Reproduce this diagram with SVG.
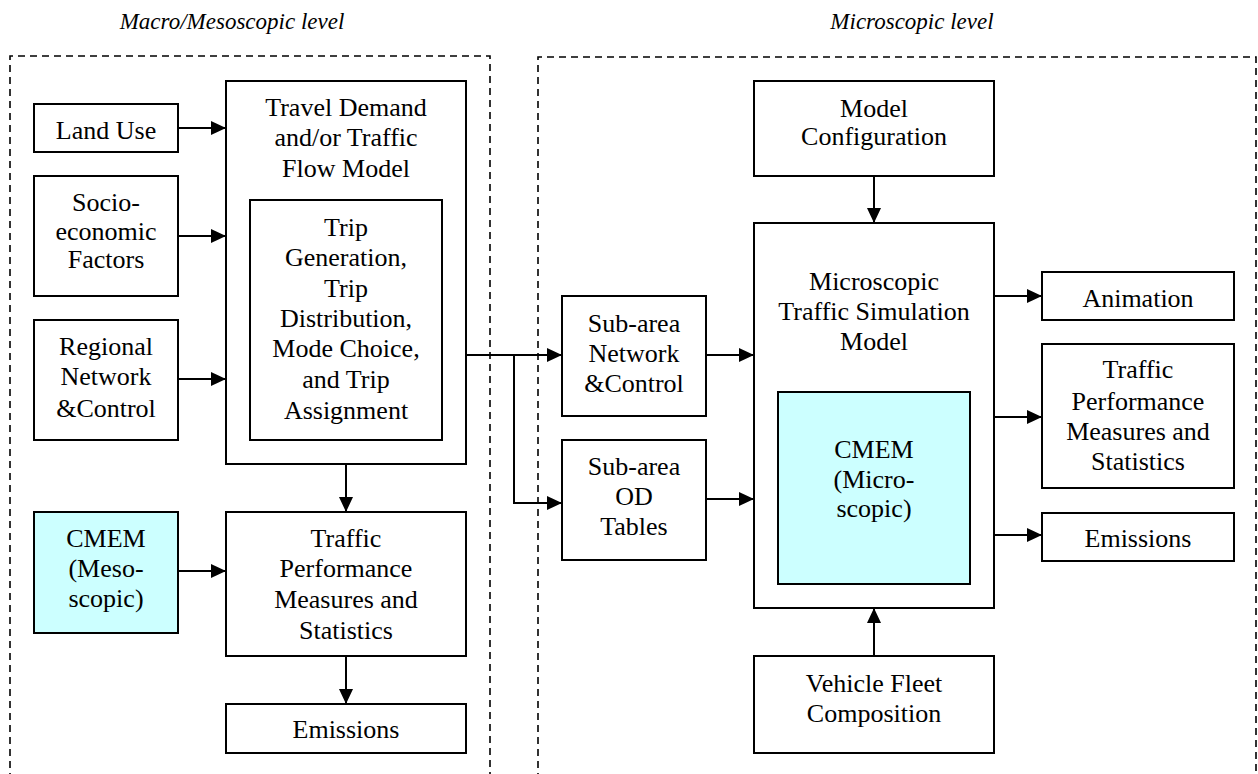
<svg xmlns="http://www.w3.org/2000/svg" width="1258" height="774" viewBox="0 0 1258 774">
<defs>
<marker id="ah" markerWidth="15" markerHeight="14" refX="15" refY="7" orient="auto" markerUnits="userSpaceOnUse">
<path d="M0,0 L15,7 L0,14 Z" fill="#000"/>
</marker>
<style>
.box{fill:#fff;stroke:#000;stroke-width:2}
.cyan{fill:#ccffff;stroke:#000;stroke-width:2}
.dash{fill:none;stroke:#000;stroke-width:1.6;stroke-dasharray:7,5}
.t{font-family:"Liberation Serif","Times New Roman",serif;font-size:26px;fill:#000;text-anchor:middle}
.title{font-family:"Liberation Serif","Times New Roman",serif;font-size:23px;font-style:italic;fill:#000;text-anchor:middle}
.c{fill:none;stroke:#000;stroke-width:2}
</style>
</defs>
<rect width="1258" height="774" fill="#fff"/>
<g id="regions">
<path class="dash" d="M10,780 L10,56 L490,56 L490,780"/>
<path class="dash" d="M538,780 L538,57 L1256,57 L1256,780"/>
<text class="title" x="232" y="29">Macro/Mesoscopic level</text>
<text class="title" x="912" y="29">Microscopic level</text>
</g>
<g id="landuse"><rect class="box" x="34" y="104" width="144" height="48"/><text class="t" x="106" y="139">Land Use</text></g>
<g id="socio"><rect class="box" x="34" y="176" width="144" height="120"/><text class="t" x="106" y="211">Socio-</text><text class="t" x="106" y="240">economic</text><text class="t" x="106" y="268">Factors</text></g>
<g id="regional"><rect class="box" x="34" y="320" width="144" height="120"/><text class="t" x="106" y="355">Regional</text><text class="t" x="106" y="385">Network</text><text class="t" x="106" y="417">&amp;Control</text></g>
<g id="travel"><rect class="box" x="226" y="81" width="240" height="383"/><text class="t" x="346" y="116">Travel Demand</text><text class="t" x="346" y="146">and/or Traffic</text><text class="t" x="346" y="177">Flow Model</text></g>
<g id="trip"><rect class="box" x="250" y="200" width="192" height="240"/><text class="t" x="346" y="236">Trip</text><text class="t" x="346" y="266">Generation,</text><text class="t" x="346" y="297">Trip</text><text class="t" x="346" y="327">Distribution,</text><text class="t" x="346" y="357">Mode Choice,</text><text class="t" x="346" y="388">and Trip</text><text class="t" x="346" y="419">Assignment</text></g>
<g id="cmemmeso"><rect class="cyan" x="34" y="512" width="144" height="121"/><text class="t" x="106" y="547">CMEM</text><text class="t" x="106" y="577">(Meso-</text><text class="t" x="106" y="607">scopic)</text></g>
<g id="tpmleft"><rect class="box" x="226" y="512" width="240" height="144"/><text class="t" x="346" y="547">Traffic</text><text class="t" x="346" y="577">Performance</text><text class="t" x="346" y="608">Measures and</text><text class="t" x="346" y="639">Statistics</text></g>
<g id="emisleft"><rect class="box" x="226" y="704" width="240" height="49"/><text class="t" x="346" y="738">Emissions</text></g>
<g id="subnet"><rect class="box" x="562" y="296" width="144" height="120"/><text class="t" x="634" y="332">Sub-area</text><text class="t" x="634" y="362">Network</text><text class="t" x="634" y="392">&amp;Control</text></g>
<g id="subod"><rect class="box" x="562" y="440" width="144" height="120"/><text class="t" x="634" y="475">Sub-area</text><text class="t" x="634" y="505">OD</text><text class="t" x="634" y="535">Tables</text></g>
<g id="modelconfig"><rect class="box" x="754" y="81" width="240" height="95"/><text class="t" x="874" y="117">Model</text><text class="t" x="874" y="145">Configuration</text></g>
<g id="micro"><rect class="box" x="754" y="223" width="240" height="385"/><text class="t" x="874" y="290">Microscopic</text><text class="t" x="874" y="320">Traffic Simulation</text><text class="t" x="874" y="350">Model</text></g>
<g id="cmemmicro"><rect class="cyan" x="778" y="392" width="192" height="192"/><text class="t" x="874" y="458">CMEM</text><text class="t" x="874" y="488">(Micro-</text><text class="t" x="874" y="517">scopic)</text></g>
<g id="fleet"><rect class="box" x="754" y="656" width="240" height="97"/><text class="t" x="874" y="692">Vehicle Fleet</text><text class="t" x="874" y="722">Composition</text></g>
<g id="animation"><rect class="box" x="1042" y="272" width="192" height="48"/><text class="t" x="1138" y="307">Animation</text></g>
<g id="tpmright"><rect class="box" x="1042" y="344" width="192" height="144"/><text class="t" x="1138" y="378">Traffic</text><text class="t" x="1138" y="410">Performance</text><text class="t" x="1138" y="440">Measures and</text><text class="t" x="1138" y="470">Statistics</text></g>
<g id="emisright"><rect class="box" x="1042" y="513" width="192" height="48"/><text class="t" x="1138" y="547">Emissions</text></g>
<g id="connectors">
<line class="c" x1="178" y1="128" x2="226" y2="128" marker-end="url(#ah)"/>
<line class="c" x1="178" y1="236" x2="226" y2="236" marker-end="url(#ah)"/>
<line class="c" x1="178" y1="379" x2="226" y2="379" marker-end="url(#ah)"/>
<line class="c" x1="178" y1="571" x2="226" y2="571" marker-end="url(#ah)"/>
<line class="c" x1="346" y1="464" x2="346" y2="512" marker-end="url(#ah)"/>
<line class="c" x1="346" y1="656" x2="346" y2="704" marker-end="url(#ah)"/>
<line class="c" x1="466" y1="355" x2="562" y2="355" marker-end="url(#ah)"/>
<polyline class="c" points="514,355 514,503 562,503" marker-end="url(#ah)"/>
<line class="c" x1="706" y1="355" x2="754" y2="355" marker-end="url(#ah)"/>
<line class="c" x1="706" y1="499" x2="754" y2="499" marker-end="url(#ah)"/>
<line class="c" x1="874" y1="176" x2="874" y2="223" marker-end="url(#ah)"/>
<line class="c" x1="874" y1="656" x2="874" y2="608" marker-end="url(#ah)"/>
<line class="c" x1="994" y1="296" x2="1042" y2="296" marker-end="url(#ah)"/>
<line class="c" x1="994" y1="417" x2="1042" y2="417" marker-end="url(#ah)"/>
<line class="c" x1="994" y1="535" x2="1042" y2="535" marker-end="url(#ah)"/>
</g>
</svg>
